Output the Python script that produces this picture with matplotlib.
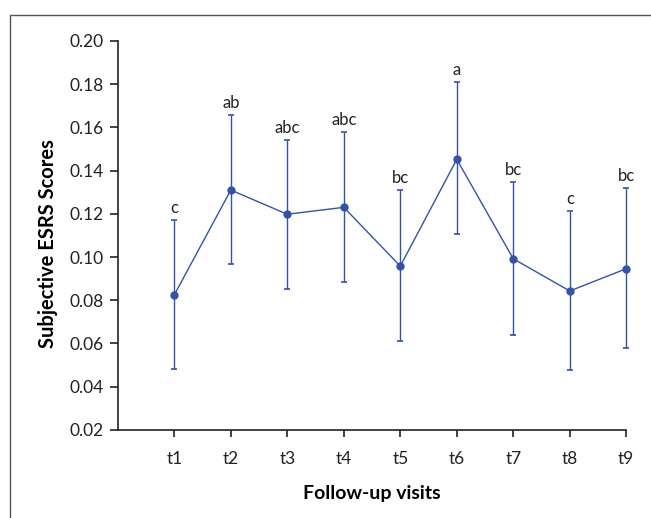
import matplotlib.pyplot as plt
from matplotlib.patches import Rectangle

visits = ['t1', 't2', 't3', 't4', 't5', 't6', 't7', 't8', 't9']
means = [0.0825, 0.1310, 0.1198, 0.1230, 0.0958, 0.1452, 0.0992, 0.0843, 0.0946]
upper = [0.1173, 0.1656, 0.1543, 0.1580, 0.1309, 0.1809, 0.1349, 0.1212, 0.1319]
lower = [0.0483, 0.0966, 0.0850, 0.0883, 0.0611, 0.1105, 0.0640, 0.0477, 0.0580]
letters = ['c', 'ab', 'abc', 'abc', 'bc', 'a', 'bc', 'c', 'bc']

plt.rcParams['font.family'] = ['Lato', 'DejaVu Sans']
blue = '#3553a6'

fig = plt.figure(figsize=(6.51, 5.18), dpi=100)
ax = fig.add_axes([0.181, 0.170, 0.781, 0.751])

# frame around the whole chart (only top and left visible in the source)
fig.patches.append(Rectangle((10/651, -0.1), 1.2, 1 - 15/518 + 0.1, transform=fig.transFigure,
                             fill=False, edgecolor='#555555', linewidth=1.0))

x = list(range(1, len(visits) + 1))
err_lo = [m - l for m, l in zip(means, lower)]
err_hi = [u - m for m, u in zip(means, upper)]
eb = ax.errorbar(x, means, yerr=[err_lo, err_hi], color=blue, ecolor=blue, elinewidth=1.0,
                 capsize=2, capthick=1.2, marker='o', markersize=5, linewidth=1.0)
for art in eb.lines[1] + eb.lines[2] + (eb.lines[0],):
    art.set_clip_on(False)

for xi, u, lab in zip(x, upper, letters):
    ax.annotate(lab, (xi, u), xytext=(0, 5), textcoords='offset points',
                ha='center', va='baseline', fontsize=12, color='#222222')

ax.set_xlim(0, 9)
ax.set_ylim(0.02, 0.20)
ax.set_xticks(x)
ax.set_xticklabels(visits)
ax.set_yticks([0.02 * i for i in range(1, 11)])
ax.set_yticklabels([f'{0.02 * i:.2f}' for i in range(1, 11)])
ax.tick_params(axis='both', labelsize=12.5, colors='#222222', width=1.2)
ax.tick_params(axis='x', length=5, pad=10)
ax.tick_params(axis='y', length=6, pad=4)
for side in ['top', 'right']:
    ax.spines[side].set_visible(False)
for side in ['left', 'bottom']:
    ax.spines[side].set_linewidth(1.2)
    ax.spines[side].set_color('#222222')

ax.set_xlabel('Follow-up visits', fontsize=14, fontweight='bold', labelpad=13)
ax.set_ylabel('Subjective ESRS Scores', fontsize=14.5, fontweight='bold')
ax.yaxis.set_label_coords(-0.118, 0.48)

fig.savefig('out.png', dpi=100)
